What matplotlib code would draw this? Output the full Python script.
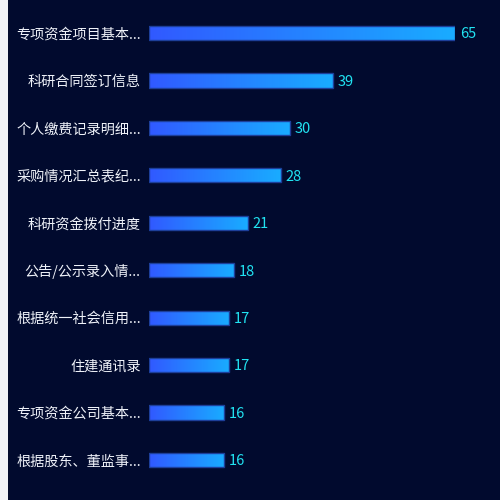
import numpy as np
import matplotlib
matplotlib.use("Agg")
import matplotlib.pyplot as plt
from matplotlib.colors import LinearSegmentedColormap
from matplotlib.patches import Rectangle

plt.rcParams['font.family'] = ['Noto Sans CJK SC', 'DejaVu Sans']

categories = ["专项资金项目基本...", "科研合同签订信息", "个人缴费记录明细...", "采购情况汇总表纪...",
              "科研资金拨付进度", "公告/公示录入情...", "根据统一社会信用...", "住建通讯录",
              "专项资金公司基本...", "根据股东、董监事..."]
values = [65, 39, 30, 28, 21, 18, 17, 17, 16, 16]

BG = "#010a2e"
fig = plt.figure(figsize=(5, 5), dpi=100, facecolor=BG)
# light strip on the left
fig.patches.append(Rectangle((0, 0), 8 / 500, 1, transform=fig.transFigure,
                             facecolor="#f0f2f7", edgecolor="none", zorder=0))

ax = fig.add_axes([149 / 500, 16.3 / 500, (455 - 149) / 500, (490.7 - 16.3) / 500])
ax.set_facecolor(BG)
ax.patch.set_alpha(0)
n = len(categories)
for s in ax.spines.values():
    s.set_visible(False)
ax.set_xticks([])
ax.set_yticks(range(n))
ax.set_yticklabels(categories, color="#eef1f8", fontsize=10.2)
ax.tick_params(axis='y', length=0, pad=6)
ax.set_xlim(0, 65)
ax.set_ylim(n - 0.5, -0.5)

cmap = LinearSegmentedColormap.from_list("g", ["#3159ff", "#19acff"])
grad = np.tile(np.linspace(0, 1, 512), (4, 1))
h = 0.3
for i, v in enumerate(values):
    rect = Rectangle((0, i - h / 2), v, h, facecolor='none',
                     edgecolor="#1d3f9a", linewidth=1, zorder=3)
    ax.add_patch(rect)
    im = ax.imshow(grad, cmap=cmap, aspect='auto',
                   extent=(0, v, i + h / 2 + 0.05, i - h / 2 - 0.05),
                   interpolation='nearest', zorder=2)
    im.set_clip_path(rect)
    ax.annotate(str(v), (v, i), xytext=(3.5, -1), textcoords='offset points',
                va='center', ha='left', color="#21e3f2", fontsize=10.5,
                annotation_clip=False)
ax.set_xlim(0, 65)
ax.set_ylim(n - 0.5, -0.5)

fig.savefig("out.png", dpi=100, facecolor=BG)
